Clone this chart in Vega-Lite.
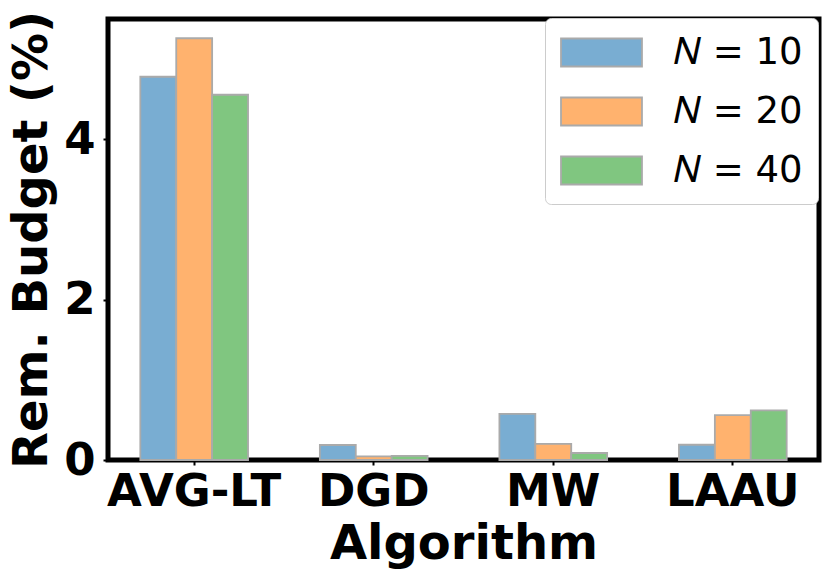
{
  "$schema": "https://vega.github.io/schema/vega-lite/v6.json",
  "autosize": {"type": "none"},
  "padding": {"left": 108, "top": 19, "right": 11, "bottom": 122},
  "width": 711,
  "height": 441,
  "data": {
    "values": [
      {"algorithm": "AVG-LT", "n": "𝑁 = 10", "budget": 4.78},
      {"algorithm": "AVG-LT", "n": "𝑁 = 20", "budget": 5.26},
      {"algorithm": "AVG-LT", "n": "𝑁 = 40", "budget": 4.555},
      {"algorithm": "DGD", "n": "𝑁 = 10", "budget": 0.187},
      {"algorithm": "DGD", "n": "𝑁 = 20", "budget": 0.045},
      {"algorithm": "DGD", "n": "𝑁 = 40", "budget": 0.052},
      {"algorithm": "MW", "n": "𝑁 = 10", "budget": 0.576},
      {"algorithm": "MW", "n": "𝑁 = 20", "budget": 0.2},
      {"algorithm": "MW", "n": "𝑁 = 40", "budget": 0.087},
      {"algorithm": "LAAU", "n": "𝑁 = 10", "budget": 0.19},
      {"algorithm": "LAAU", "n": "𝑁 = 20", "budget": 0.56},
      {"algorithm": "LAAU", "n": "𝑁 = 40", "budget": 0.62}
    ]
  },
  "mark": {"type": "bar", "stroke": "#aaaaaa", "strokeWidth": 1.8, "opacity": 1},
  "encoding": {
    "x": {
      "field": "algorithm",
      "type": "nominal",
      "sort": ["AVG-LT", "DGD", "MW", "LAAU"],
      "scale": {"paddingInner": 0.4, "paddingOuter": 0.18},
      "axis": {
        "title": "Algorithm",
        "labelAngle": 0,
        "labelFont": "DejaVu Sans",
        "labelFontWeight": "bold",
        "labelFontSize": 45,
        "labelColor": "black",
        "labelPadding": 4,
        "titleFont": "DejaVu Sans",
        "titleFontWeight": "bold",
        "titleFontSize": 48,
        "titleColor": "black",
        "titlePadding": 6,
        "domain": false,
        "tickColor": "black",
        "tickSize": 5,
        "tickWidth": 2
      }
    },
    "xOffset": {"field": "n", "type": "nominal"},
    "y": {
      "field": "budget",
      "type": "quantitative",
      "scale": {"domain": [0, 5.5], "nice": false},
      "axis": {
        "title": "Rem. Budget (%)",
        "values": [0, 2, 4],
        "grid": false,
        "labelFont": "DejaVu Sans",
        "labelFontWeight": "bold",
        "labelFontSize": 45,
        "labelColor": "black",
        "labelPadding": 8,
        "titleFont": "DejaVu Sans",
        "titleFontWeight": "bold",
        "titleFontSize": 48,
        "titleColor": "black",
        "titlePadding": 7,
        "domain": false,
        "tickColor": "black",
        "tickSize": 5,
        "tickWidth": 2
      }
    },
    "color": {
      "field": "n",
      "type": "nominal",
      "scale": {"range": ["#79add2", "#ffb26e", "#80c680"]},
      "legend": {
        "title": null,
        "orient": "none",
        "legendX": 437,
        "legendY": -1,
        "symbolType": "M-1,-0.757L3.378,-0.757L3.378,0.757L-1,0.757Z",
        "symbolSize": 1369,
        "symbolStrokeColor": "#aaaaaa",
        "symbolStrokeWidth": 1.8,
        "symbolOpacity": 1,
        "labelFont": "DejaVu Sans",
        "labelFontSize": 37,
        "labelColor": "black",
        "labelOffset": 75,
        "rowPadding": 21,
        "padding": 15,
        "strokeColor": "#cccccc",
        "cornerRadius": 6,
        "fillColor": "white"
      }
    }
  },
  "config": {
    "view": {"stroke": "black", "strokeWidth": 5},
    "axis": {"ticks": true}
  }
}
